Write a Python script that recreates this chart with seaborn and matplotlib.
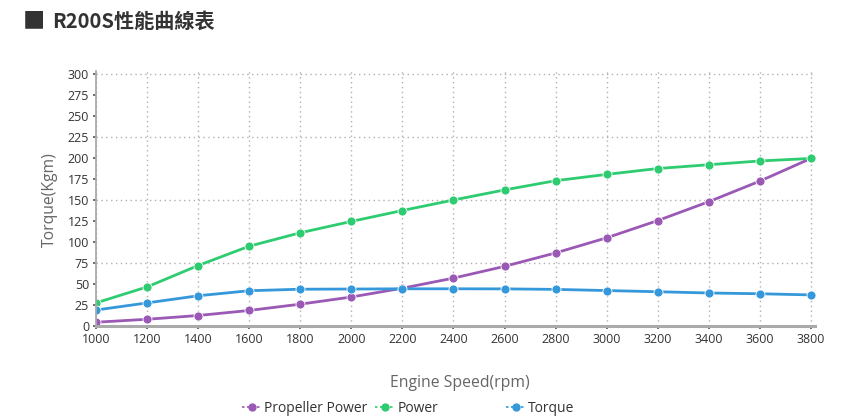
import matplotlib
matplotlib.use("Agg")
import matplotlib.pyplot as plt
from matplotlib.lines import Line2D
import seaborn as sns
import pandas as pd
import numpy as np

rpm = [1000, 1200, 1400, 1600, 1800, 2000, 2200, 2400, 2600, 2800, 3000, 3200, 3400, 3600, 3800]
propeller_power = [4.5, 8, 12.5, 18.5, 26, 34.5, 45, 57, 71, 87, 105, 125.5, 148, 172.5, 199.5]
power = [27.5, 46.5, 72, 95, 111, 124.5, 137.5, 150, 162, 173, 180.5, 187.5, 192, 196.5, 199.5]
torque = [19, 27.5, 36, 42, 43.8, 44, 44.3, 44.3, 44.2, 43.6, 42.2, 40.8, 39.3, 38.4, 37]
series_names = ["Propeller Power", "Power", "Torque"]
colors = ["#9b59b6", "#2ecc71", "#3498db"]
y_ticks = list(range(0, 301, 25))
x_ticks = list(range(1000, 3801, 200))

df = pd.DataFrame({
    "rpm": rpm * 3,
    "value": propeller_power + power + torque,
    "series": [series_names[0]] * len(rpm) + [series_names[1]] * len(rpm) + [series_names[2]] * len(rpm),
})

sns.set_theme(style="white")
plt.rcParams["font.family"] = ["Open Sans", "DejaVu Sans"]

fig = plt.figure(figsize=(8.46, 4.2), dpi=100)
ax = fig.add_axes([96 / 846, 1 - 326 / 420, (815 - 96) / 846, (326 - 71) / 420])

sns.lineplot(data=df, x="rpm", y="value", hue="series", palette=colors,
             hue_order=series_names, marker="o", markersize=6.5,
             markeredgecolor="white", markeredgewidth=0.6,
             linewidth=2, ax=ax, legend=False)

ax.set_xlim(1000, 3816)
ax.set_ylim(0, 303.6)
ax.set_xticks(x_ticks)
ax.set_yticks(y_ticks)
ax.set_xticklabels([str(v) for v in x_ticks], fontsize=9, color="#333333")
ax.set_yticklabels([str(v) for v in y_ticks], fontsize=9, color="#333333")
ax.tick_params(axis="both", which="both", length=2, width=1.2, color="#555555", pad=3,
               left=True, bottom=True)

# grid: vertical at every x tick, horizontal every 75
for xv in x_ticks:
    ax.axvline(xv, color="#b0b0b0", linestyle=(0, (1, 2.5)), linewidth=1, zorder=0)
for yv in [75, 150, 225, 300]:
    ax.axhline(yv, color="#b0b0b0", linestyle=(0, (1, 2.5)), linewidth=1, zorder=0)

for s in ["top", "right"]:
    ax.spines[s].set_visible(False)
ax.spines["left"].set_color("#aaaaaa")
ax.spines["left"].set_linewidth(1.3)
ax.spines["bottom"].set_color("#aaaaaa")
ax.spines["bottom"].set_linewidth(2.2)

ax.set_xlabel("")
ax.set_ylabel("")
fig.text(460 / 846, 1 - 383 / 420, "Engine Speed(rpm)", ha="center", va="center",
         fontsize=11.3, color="#666666")
fig.text(50 / 846, 1 - 200 / 420, "Torque(Kgm)", ha="center", va="center",
         fontsize=11.3, color="#666666", rotation=90)

# title
fig.text(23 / 846, 1 - 21 / 420, "■", ha="left", va="center", fontsize=16,
         color="#333333", family=["Noto Sans CJK TC", "DejaVu Sans"])
fig.text(52 / 846, 1 - 21 / 420, "R200S性能曲線表", ha="left", va="center", fontsize=14.5,
         fontweight="bold", color="#333333", family=["Noto Sans CJK TC", "DejaVu Sans"])

# legend items
leg_x = [242, 375, 506]
for name, c, lx in zip(series_names, colors, leg_x):
    h = Line2D([0], [0], color=c, linestyle=(0, (1.5, 1.5)), linewidth=1.2,
               marker="o", markersize=5, markeredgecolor=c)
    lg = fig.legend([h], [name], loc="center left",
                    bbox_to_anchor=(lx / 846, 1 - 408 / 420),
                    frameon=False, fontsize=10, handlelength=1.4, handletextpad=0.2,
                    borderpad=0, borderaxespad=0, labelcolor="#333333")

fig.savefig("out.png", dpi=100)
